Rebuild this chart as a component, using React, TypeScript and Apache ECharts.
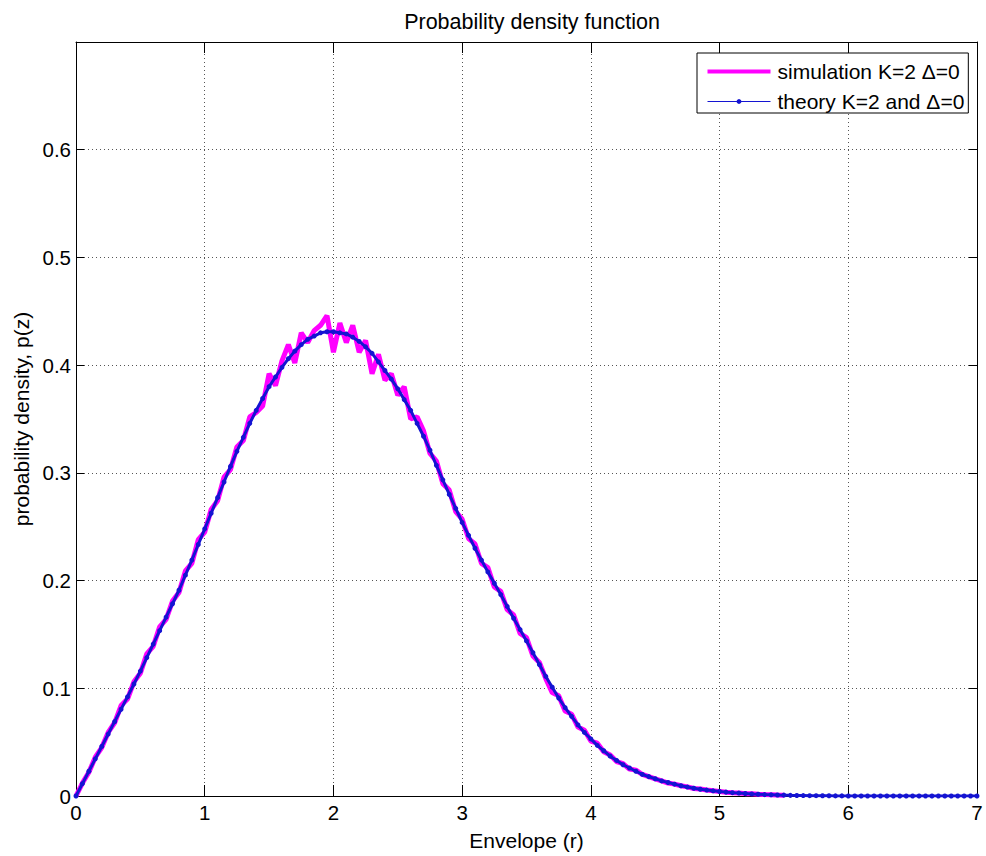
import React, { useEffect, useRef } from "react";
import * as echarts from "echarts";

const TITLE = "Probability density function";
const X_NAME = "Envelope (r)";
const Y_NAME = "probability density, p(z)";
const SIM_NAME = "simulation K=2 \u0394=0";
const THEORY_NAME = "theory K=2 and \u0394=0";

// sampling step of both curves along the envelope axis (r)
const R_STEP = 0.05;

// theory curve, r = 0 .. 7
const theoryP = [
  0, 0.0115, 0.023, 0.0345, 0.046, 0.0575, 0.069, 0.0805, 0.092, 0.104,
  0.116, 0.1285, 0.141, 0.1535, 0.166, 0.1785, 0.191, 0.205, 0.219, 0.2335,
  0.248, 0.2625, 0.277, 0.2915, 0.306, 0.32, 0.333, 0.346, 0.358, 0.369,
  0.38, 0.389, 0.398, 0.406, 0.413, 0.419, 0.424, 0.427, 0.43, 0.431,
  0.431, 0.43, 0.429, 0.426, 0.422, 0.417, 0.411, 0.403, 0.395, 0.387,
  0.378, 0.368, 0.358, 0.346, 0.334, 0.321, 0.307, 0.2935, 0.28, 0.267,
  0.254, 0.242, 0.23, 0.219, 0.208, 0.1975, 0.187, 0.176, 0.165, 0.1545,
  0.144, 0.133, 0.122, 0.111, 0.101, 0.091, 0.082, 0.074, 0.066, 0.059,
  0.053, 0.047, 0.042, 0.037, 0.033, 0.029, 0.026, 0.023, 0.02, 0.018,
  0.016, 0.014, 0.0125, 0.011, 0.0095, 0.0083, 0.0072, 0.0063, 0.0055, 0.0048,
  0.0042, 0.0036, 0.0031, 0.0027, 0.0023, 0.0019, 0.0016, 0.0013, 0.0011, 0.0009,
  0.0008, 0.0006, 0.0005, 0.0004, 0.0003, 0.0003, 0.0002, 0.0002, 0.0001, 0.0001,
  0, 0, 0, 0, 0, 0, 0, 0, 0, 0,
  0, 0, 0, 0, 0, 0, 0, 0, 0, 0,
  0,
];

// simulated histogram, r = 0 .. 5.5
const simP = [
  0, 0.012, 0.022, 0.036, 0.045, 0.059, 0.068, 0.084, 0.09, 0.106,
  0.114, 0.132, 0.139, 0.157, 0.164, 0.181, 0.189, 0.209, 0.216, 0.238,
  0.245, 0.266, 0.274, 0.296, 0.303, 0.324, 0.33, 0.352, 0.356, 0.362,
  0.392, 0.381, 0.404, 0.419, 0.402, 0.43, 0.421, 0.432, 0.437, 0.446,
  0.412, 0.439, 0.421, 0.437, 0.412, 0.423, 0.392, 0.41, 0.386, 0.392,
  0.372, 0.38, 0.35, 0.352, 0.339, 0.318, 0.311, 0.29, 0.284, 0.264,
  0.257, 0.239, 0.234, 0.216, 0.212, 0.194, 0.19, 0.173, 0.168, 0.151,
  0.147, 0.13, 0.124, 0.109, 0.096, 0.093, 0.079, 0.076, 0.064, 0.061,
  0.051, 0.049, 0.041, 0.038, 0.032, 0.03, 0.025, 0.024, 0.02, 0.018,
  0.016, 0.014, 0.012, 0.011, 0.0095, 0.0085, 0.007, 0.0065, 0.0055, 0.0048,
  0.0042, 0.0035, 0.003, 0.0027, 0.0022, 0.002, 0.0016, 0.0013, 0.0011, 0.0009,
  0.0008,
];

const X_MIN = 0;
const X_MAX = 7;
const X_INTERVAL = 1;
const Y_MIN = 0;
const Y_MAX = 0.7;
const Y_INTERVAL = 0.1;
const Y_LAST_LABEL = 0.6;

const SIM_COLOR = "#ff00ff";
const THEORY_COLOR = "#1414d2";

const FONT = "'Liberation Sans', Arial, Helvetica, sans-serif";

function toPairs(vals: number[]): [number, number][] {
  return vals.map((v, i) => [Number((i * R_STEP).toFixed(2)), v]);
}

export default function App() {
  const ref = useRef<HTMLDivElement>(null);

  useEffect(() => {
    if (!ref.current) return;
    const chart = echarts.init(ref.current, undefined, { renderer: "svg" });
    const grid = { left: 76, right: 9, top: 42, bottom: 60 };
    const splitStyle = { color: "#555", type: [1, 3] as number[], width: 1 };
    const axisLineStyle = { color: "#000", width: 1 };
    chart.setOption({
      animation: false,
      backgroundColor: "#fff",
      textStyle: { fontFamily: FONT },
      title: {
        text: TITLE,
        left: 527,
        top: 6,
        textAlign: "center",
        textStyle: { fontFamily: FONT, fontSize: 21.5, fontWeight: "normal", color: "#000" },
      },
      legend: {
        orient: "vertical",
        left: 697,
        top: 53,
        padding: [8, 4, 1, 10],
        itemGap: 9,
        itemWidth: 63,
        itemHeight: 6,
        borderColor: "#000",
        borderWidth: 1,
        backgroundColor: "#fff",
        textStyle: { fontFamily: FONT, fontSize: 21, color: "#000", lineHeight: 21, padding: [0, 0, 0, 2] },
        data: [
          {
            name: SIM_NAME,
            icon: "path://M0,0L63,0L63,4L0,4Z",
            itemStyle: { color: SIM_COLOR },
          },
          { name: THEORY_NAME, lineStyle: { width: 1, color: THEORY_COLOR }, itemStyle: { color: THEORY_COLOR } },
        ],
      },
      grid,
      xAxis: [
        {
          type: "value",
          min: X_MIN,
          max: X_MAX,
          interval: X_INTERVAL,
          position: "bottom",
          name: X_NAME,
          nameLocation: "middle",
          nameGap: 34,
          nameTextStyle: { fontFamily: FONT, fontSize: 21, color: "#000" },
          axisLine: { show: true, onZero: false, lineStyle: axisLineStyle },
          axisTick: { show: true, inside: true, length: 11, lineStyle: axisLineStyle },
          axisLabel: { fontFamily: FONT, fontSize: 20.5, color: "#000", margin: 6 },
          splitLine: { show: true, lineStyle: splitStyle },
        },
        {
          type: "value",
          min: X_MIN,
          max: X_MAX,
          interval: X_INTERVAL,
          position: "top",
          axisLine: { show: true, onZero: false, lineStyle: axisLineStyle },
          axisTick: { show: true, inside: true, length: 11, lineStyle: axisLineStyle },
          axisLabel: { show: false },
          splitLine: { show: false },
        },
      ],
      yAxis: [
        {
          type: "value",
          min: Y_MIN,
          max: Y_MAX,
          interval: Y_INTERVAL,
          position: "left",
          name: Y_NAME,
          nameLocation: "middle",
          nameGap: 42,
          nameRotate: 90,
          nameTextStyle: { fontFamily: FONT, fontSize: 21, color: "#000" },
          axisLine: { show: true, onZero: false, lineStyle: axisLineStyle },
          axisTick: { show: true, inside: true, length: 8, lineStyle: axisLineStyle },
          axisLabel: {
            fontFamily: FONT,
            fontSize: 20.5,
            color: "#000",
            margin: 5,
            formatter: (v: number) => (v > Y_LAST_LABEL + 1e-9 ? "" : String(Number(v.toFixed(1)))),
          },
          splitLine: { show: true, lineStyle: splitStyle },
        },
        {
          type: "value",
          min: Y_MIN,
          max: Y_MAX,
          interval: Y_INTERVAL,
          position: "right",
          axisLine: { show: true, onZero: false, lineStyle: axisLineStyle },
          axisTick: { show: true, inside: true, length: 8, lineStyle: axisLineStyle },
          axisLabel: { show: false },
          splitLine: { show: false },
        },
      ],
      series: [
        {
          name: SIM_NAME,
          type: "line",
          xAxisIndex: 0,
          yAxisIndex: 0,
          showSymbol: false,
          symbol: "none",
          data: toPairs(simP),
          lineStyle: { color: SIM_COLOR, width: 5 },
          itemStyle: { color: SIM_COLOR },
          z: 2,
        },
        {
          name: THEORY_NAME,
          type: "line",
          xAxisIndex: 0,
          yAxisIndex: 0,
          symbol: "circle",
          symbolSize: 5,
          showSymbol: true,
          data: toPairs(theoryP),
          lineStyle: { color: THEORY_COLOR, width: 3 },
          itemStyle: { color: THEORY_COLOR },
          z: 3,
        },
      ],
    });
    return () => chart.dispose();
  }, []);

  return (
    <div
      ref={ref}
      style={{ position: "absolute", left: 0, top: 0, width: 986, height: 856, background: "#fff" }}
    />
  );
}
